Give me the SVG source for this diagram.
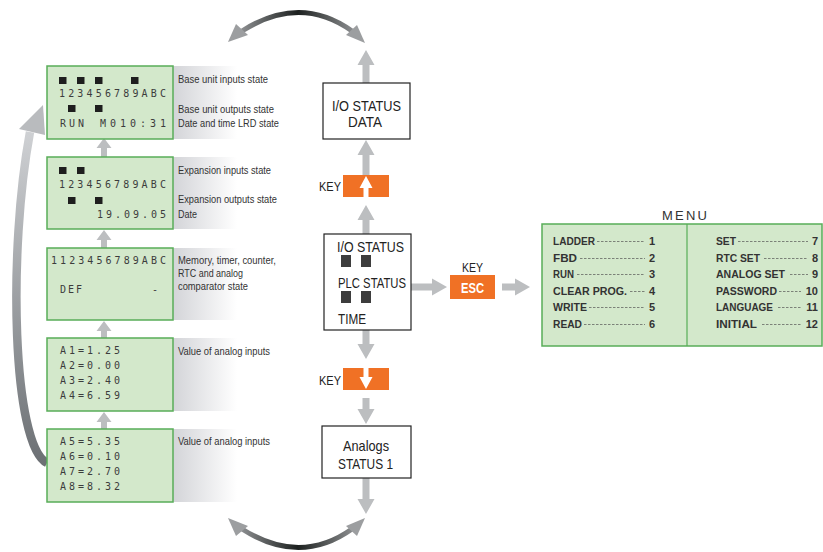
<svg xmlns="http://www.w3.org/2000/svg" width="823" height="552" viewBox="0 0 823 552">
<defs>
<linearGradient id="shade" x1="0" y1="0" x2="1" y2="0">
<stop offset="0" stop-color="#d3d4d8"/>
<stop offset="1" stop-color="#ffffff"/>
</linearGradient>
<linearGradient id="arcg" gradientUnits="userSpaceOnUse" x1="240" y1="0" x2="355" y2="0">
<stop offset="0" stop-color="#8e9092"/>
<stop offset="0.5" stop-color="#1c201f"/>
<stop offset="1" stop-color="#8e9092"/>
</linearGradient>
<linearGradient id="leftg" gradientUnits="userSpaceOnUse" x1="0" y1="130" x2="0" y2="470">
<stop offset="0" stop-color="#cfd1d4"/>
<stop offset="1" stop-color="#6a6e72"/>
</linearGradient>
<style>
.lcd{fill:#d3e8cb;stroke:#58ad58;stroke-width:1.5}
.sh{fill:url(#shade)}
.lt{font-family:"DejaVu Sans Mono",monospace;font-size:10px;fill:#3c3c3c}
.sq{fill:#1e1e1e}
.lab{font-family:"Liberation Sans",Arial,sans-serif;font-size:10.3px;fill:#333}
.box{fill:#fff;stroke:#222;stroke-width:1.2}
.bt{font-family:"Liberation Sans",Arial,sans-serif;font-size:15px;fill:#222}
.key{font-family:"Liberation Sans",Arial,sans-serif;font-size:12.5px;fill:#222}
.or{fill:#f07125}
.ga{fill:#bcbec0}
.wa{fill:#fff}
.dsq{fill:#3d3d3d}
.mi{font-family:"Liberation Sans",Arial,sans-serif;font-size:11px;font-weight:bold;fill:#333}
.dl{stroke:#555;stroke-width:0.7;stroke-dasharray:2.5,1.5}
</style>
</defs>
<rect width="823" height="552" fill="#fff"/>

<g id="connectors">
<path class="ga" d="M104,138 L111.5,148 L107,148 L107,157 L101,157 L101,148 L96.5,148 Z"/>
<path class="ga" d="M104,230 L111.5,240 L107,240 L107,248 L101,248 L101,240 L96.5,240 Z"/>
<path class="ga" d="M104,321 L111.5,331 L107,331 L107,338 L101,338 L101,331 L96.5,331 Z"/>
<path class="ga" d="M104,412 L111.5,422 L107,422 L107,429 L101,429 L101,422 L96.5,422 Z"/>
<path class="ga" d="M366,50 L374.5,65 L369.5,65 L369.5,83 L362.5,83 L362.5,65 L357.5,65 Z"/>
<path class="ga" d="M366,140 L374.5,155 L369.5,155 L369.5,175 L362.5,175 L362.5,155 L357.5,155 Z"/>
<path class="ga" d="M366,205 L374.5,220 L369.5,220 L369.5,234 L362.5,234 L362.5,220 L357.5,220 Z"/>
<path class="ga" d="M366,359 L374.5,344 L369.5,344 L369.5,330 L362.5,330 L362.5,344 L357.5,344 Z"/>
<path class="ga" d="M366,424 L374.5,409 L369.5,409 L369.5,398 L362.5,398 L362.5,409 L357.5,409 Z"/>
<path class="ga" d="M366,514 L374.5,499 L369.5,499 L369.5,478 L362.5,478 L362.5,499 L357.5,499 Z"/>
<path class="ga" d="M447,287 L432,278.5 L432,283.5 L411,283.5 L411,290.5 L432,290.5 L432,295.5 Z"/>
<path class="ga" d="M530,287 L515,278.5 L515,283.5 L502,283.5 L502,290.5 L515,290.5 L515,295.5 Z"/>
<path d="M242,31 Q300,-6 352,31" fill="none" stroke="url(#arcg)" stroke-width="5"/>
<polygon fill="#9c9ea0" points="228,42 236,24 248,35"/>
<polygon fill="#9c9ea0" points="365,43 346,35 357,25"/>
<path d="M242,529 Q300,566 352,529" fill="none" stroke="url(#arcg)" stroke-width="5"/>
<polygon fill="#9c9ea0" points="228,518 236,536 248,526"/>
<polygon fill="#9c9ea0" points="365,518 346,526 357,536"/>
<path d="M47,463 C12,445 8,250 30,132" fill="none" stroke="url(#leftg)" stroke-width="8.5"/>
<polygon fill="#b9bbbe" points="43,105 19,129 45,135"/>
</g>

<g id="panel1">
<rect class="sh" x="173" y="66" width="64" height="73"/>
<rect class="lcd" x="47" y="66" width="126" height="73"/>
<rect class="sq" x="59" y="77" width="7.5" height="7"/>
<rect class="sq" x="77" y="77" width="7.5" height="7"/>
<rect class="sq" x="95" y="77" width="7.5" height="7"/>
<rect class="sq" x="131" y="77" width="7.5" height="7"/>
<text class="lt" x="59" y="97" textLength="107" lengthAdjust="spacing">123456789ABC</text>
<rect class="sq" x="68" y="105" width="7.5" height="7"/>
<rect class="sq" x="95" y="105" width="7.5" height="7"/>
<text class="lt" x="60" y="127" textLength="24" lengthAdjust="spacing">RUN</text>
<text class="lt" x="100" y="127" textLength="66" lengthAdjust="spacing">M010:31</text>
<text class="lab" x="178" y="83" textLength="90" lengthAdjust="spacingAndGlyphs">Base unit inputs state</text>
<text class="lab" x="178" y="113" textLength="96" lengthAdjust="spacingAndGlyphs">Base unit outputs state</text>
<text class="lab" x="178" y="127" textLength="101" lengthAdjust="spacingAndGlyphs">Date and time LRD state</text>
</g>

<g id="panel2">
<rect class="sh" x="173" y="157" width="64" height="72"/>
<rect class="lcd" x="47" y="157" width="126" height="72"/>
<rect class="sq" x="59" y="167" width="7.5" height="7"/>
<rect class="sq" x="77" y="167" width="7.5" height="7"/>
<text class="lt" x="59" y="188" textLength="107" lengthAdjust="spacing">123456789ABC</text>
<rect class="sq" x="68" y="197" width="7.5" height="7"/>
<rect class="sq" x="95" y="197" width="7.5" height="7"/>
<text class="lt" x="97" y="218" textLength="69" lengthAdjust="spacing">19.09.05</text>
<text class="lab" x="178" y="174" textLength="93" lengthAdjust="spacingAndGlyphs">Expansion inputs state</text>
<text class="lab" x="178" y="203" textLength="99" lengthAdjust="spacingAndGlyphs">Expansion outputs state</text>
<text class="lab" x="178" y="218" textLength="19" lengthAdjust="spacingAndGlyphs">Date</text>
</g>

<g id="panel3">
<rect class="sh" x="173" y="248" width="64" height="72"/>
<rect class="lcd" x="47" y="248" width="126" height="72"/>
<text class="lt" x="51" y="264" textLength="115" lengthAdjust="spacing">1123456789ABC</text>
<text class="lt" x="60" y="293" textLength="22" lengthAdjust="spacing">DEF</text>
<text class="lt" x="152" y="293">-</text>
<text class="lab" x="178" y="264" textLength="98" lengthAdjust="spacingAndGlyphs">Memory, timer, counter,</text>
<text class="lab" x="178" y="277" textLength="65" lengthAdjust="spacingAndGlyphs">RTC and analog</text>
<text class="lab" x="178" y="290" textLength="70" lengthAdjust="spacingAndGlyphs">comparator state</text>
</g>

<g id="panel4">
<rect class="sh" x="173" y="338" width="64" height="73"/>
<rect class="lcd" x="47" y="338" width="126" height="73"/>
<text class="lt" x="60" y="354" textLength="60" lengthAdjust="spacing">A1=1.25</text>
<text class="lt" x="60" y="369" textLength="60" lengthAdjust="spacing">A2=0.00</text>
<text class="lt" x="60" y="384" textLength="60" lengthAdjust="spacing">A3=2.40</text>
<text class="lt" x="60" y="399" textLength="60" lengthAdjust="spacing">A4=6.59</text>
<text class="lab" x="178" y="355" textLength="92" lengthAdjust="spacingAndGlyphs">Value of analog inputs</text>
</g>

<g id="panel5">
<rect class="sh" x="173" y="429" width="64" height="73"/>
<rect class="lcd" x="47" y="429" width="126" height="73"/>
<text class="lt" x="60" y="445" textLength="60" lengthAdjust="spacing">A5=5.35</text>
<text class="lt" x="60" y="460" textLength="60" lengthAdjust="spacing">A6=0.10</text>
<text class="lt" x="60" y="475" textLength="60" lengthAdjust="spacing">A7=2.70</text>
<text class="lt" x="60" y="490" textLength="60" lengthAdjust="spacing">A8=8.32</text>
<text class="lab" x="178" y="445" textLength="92" lengthAdjust="spacingAndGlyphs">Value of analog inputs</text>
</g>

<g id="io-status-data">
<rect class="box" x="323" y="83" width="87" height="56"/>
<text class="bt" x="332" y="111" font-size="14" textLength="69" lengthAdjust="spacingAndGlyphs">I/O STATUS</text>
<text class="bt" x="348" y="127" font-size="14" textLength="34" lengthAdjust="spacingAndGlyphs">DATA</text>
</g>

<g id="key-up">
<text class="key" x="319" y="191" textLength="22" lengthAdjust="spacingAndGlyphs">KEY</text>
<rect class="or" x="343" y="175" width="46" height="22"/>
<path class="wa" d="M366,176 L372.5,188 L368.5,188 L368.5,197 L363.5,197 L363.5,188 L359.5,188 Z"/>
</g>

<g id="main-status">
<rect class="box" x="324" y="234" width="87" height="96"/>
<text class="bt" x="337" y="252" textLength="67" lengthAdjust="spacingAndGlyphs">I/O STATUS</text>
<rect class="dsq" x="341" y="255" width="10" height="12"/>
<rect class="dsq" x="361" y="255" width="10" height="12"/>
<text class="bt" x="338" y="288" textLength="68" lengthAdjust="spacingAndGlyphs">PLC STATUS</text>
<rect class="dsq" x="341" y="291" width="10" height="12"/>
<rect class="dsq" x="361" y="291" width="10" height="12"/>
<text class="bt" x="338" y="324" textLength="28" lengthAdjust="spacingAndGlyphs">TIME</text>
</g>

<g id="key-esc">
<text class="key" x="462" y="272" textLength="21" lengthAdjust="spacingAndGlyphs">KEY</text>
<rect class="or" x="450" y="275" width="45" height="24"/>
<text x="461" y="292.5" textLength="23" lengthAdjust="spacingAndGlyphs" font-family="'Liberation Sans',Arial,sans-serif" font-size="14" font-weight="bold" fill="#fff">ESC</text>
</g>

<g id="key-down">
<text class="key" x="319" y="385" textLength="22" lengthAdjust="spacingAndGlyphs">KEY</text>
<rect class="or" x="343" y="368" width="46" height="22"/>
<path class="wa" d="M366,389 L372.5,377 L368.5,377 L368.5,368 L363.5,368 L363.5,377 L359.5,377 Z"/>
</g>

<g id="analogs-status">
<rect class="box" x="322" y="426" width="89" height="52"/>
<text class="bt" x="343" y="451" textLength="46" lengthAdjust="spacingAndGlyphs">Analogs</text>
<text class="bt" x="338" y="469" textLength="55" lengthAdjust="spacingAndGlyphs">STATUS 1</text>
</g>

<g id="menu">
<text x="662" y="220" textLength="45" lengthAdjust="spacing" font-family="'Liberation Sans',Arial,sans-serif" font-size="13" fill="#333">MENU</text>
<rect class="lcd" x="542" y="224" width="280" height="122"/>
<line x1="687" y1="224" x2="687" y2="346" stroke="#58ad58" stroke-width="1.2"/>
<text class="mi" x="553" y="245" textLength="42" lengthAdjust="spacingAndGlyphs">LADDER</text><line class="dl" x1="597" y1="241.5" x2="645" y2="241.5"/><text class="mi" x="655" y="245" text-anchor="end">1</text>
<text class="mi" x="553" y="262" textLength="24" lengthAdjust="spacingAndGlyphs">FBD</text><line class="dl" x1="580" y1="258.5" x2="645" y2="258.5"/><text class="mi" x="655" y="262" text-anchor="end">2</text>
<text class="mi" x="553" y="278" textLength="21" lengthAdjust="spacingAndGlyphs">RUN</text><line class="dl" x1="577" y1="274.5" x2="645" y2="274.5"/><text class="mi" x="655" y="278" text-anchor="end">3</text>
<text class="mi" x="553" y="295" textLength="74" lengthAdjust="spacingAndGlyphs">CLEAR PROG.</text><line class="dl" x1="630" y1="291.5" x2="645" y2="291.5"/><text class="mi" x="655" y="295" text-anchor="end">4</text>
<text class="mi" x="553" y="311" textLength="34" lengthAdjust="spacingAndGlyphs">WRITE</text><line class="dl" x1="589" y1="307.5" x2="645" y2="307.5"/><text class="mi" x="655" y="311" text-anchor="end">5</text>
<text class="mi" x="553" y="328" textLength="29" lengthAdjust="spacingAndGlyphs">READ</text><line class="dl" x1="584" y1="324.5" x2="645" y2="324.5"/><text class="mi" x="655" y="328" text-anchor="end">6</text>
<text class="mi" x="716" y="245" textLength="20" lengthAdjust="spacingAndGlyphs">SET</text><line class="dl" x1="738" y1="241.5" x2="808" y2="241.5"/><text class="mi" x="818" y="245" text-anchor="end">7</text>
<text class="mi" x="716" y="262" textLength="44" lengthAdjust="spacingAndGlyphs">RTC SET</text><line class="dl" x1="764" y1="258.5" x2="808" y2="258.5"/><text class="mi" x="818" y="262" text-anchor="end">8</text>
<text class="mi" x="716" y="278" textLength="69" lengthAdjust="spacingAndGlyphs">ANALOG SET</text><line class="dl" x1="790" y1="274.5" x2="808" y2="274.5"/><text class="mi" x="818" y="278" text-anchor="end">9</text>
<text class="mi" x="716" y="295" textLength="61" lengthAdjust="spacingAndGlyphs">PASSWORD</text><line class="dl" x1="779" y1="291.5" x2="801" y2="291.5"/><text class="mi" x="818" y="295" text-anchor="end">10</text>
<text class="mi" x="716" y="311" textLength="57" lengthAdjust="spacingAndGlyphs">LANGUAGE</text><line class="dl" x1="778" y1="307.5" x2="801" y2="307.5"/><text class="mi" x="818" y="311" text-anchor="end">11</text>
<text class="mi" x="716" y="328" textLength="41" lengthAdjust="spacingAndGlyphs">INITIAL</text><line class="dl" x1="762" y1="324.5" x2="801" y2="324.5"/><text class="mi" x="818" y="328" text-anchor="end">12</text>
</g>
</svg>
